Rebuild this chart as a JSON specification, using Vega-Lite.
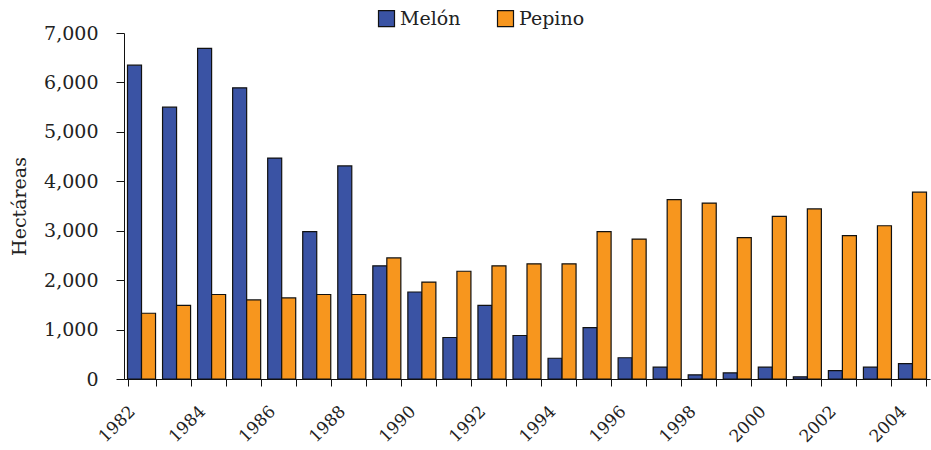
{
  "$schema": "https://vega.github.io/schema/vega-lite/v6.json",
  "width": 806,
  "height": 346,
  "autosize": "none",
  "padding": {"left": 124, "top": 33, "right": 1, "bottom": 71},
  "config": {
    "view": {"stroke": null},
    "font": "DejaVu Serif",
    "axis": {"labelFont": "DejaVu Serif", "titleFont": "DejaVu Serif", "labelColor": "#222", "titleColor": "#222"}
  },
  "data": {
    "values": [
      {"year": 1982, "crop": "Melón", "value": 6350}, {"year": 1982, "crop": "Pepino", "value": 1330},
      {"year": 1983, "crop": "Melón", "value": 5500}, {"year": 1983, "crop": "Pepino", "value": 1490},
      {"year": 1984, "crop": "Melón", "value": 6690}, {"year": 1984, "crop": "Pepino", "value": 1710},
      {"year": 1985, "crop": "Melón", "value": 5890}, {"year": 1985, "crop": "Pepino", "value": 1600},
      {"year": 1986, "crop": "Melón", "value": 4470}, {"year": 1986, "crop": "Pepino", "value": 1640},
      {"year": 1987, "crop": "Melón", "value": 2980}, {"year": 1987, "crop": "Pepino", "value": 1710},
      {"year": 1988, "crop": "Melón", "value": 4310}, {"year": 1988, "crop": "Pepino", "value": 1710},
      {"year": 1989, "crop": "Melón", "value": 2290}, {"year": 1989, "crop": "Pepino", "value": 2450},
      {"year": 1990, "crop": "Melón", "value": 1760}, {"year": 1990, "crop": "Pepino", "value": 1960},
      {"year": 1991, "crop": "Melón", "value": 840}, {"year": 1991, "crop": "Pepino", "value": 2180},
      {"year": 1992, "crop": "Melón", "value": 1490}, {"year": 1992, "crop": "Pepino", "value": 2290},
      {"year": 1993, "crop": "Melón", "value": 880}, {"year": 1993, "crop": "Pepino", "value": 2330},
      {"year": 1994, "crop": "Melón", "value": 420}, {"year": 1994, "crop": "Pepino", "value": 2330},
      {"year": 1995, "crop": "Melón", "value": 1040}, {"year": 1995, "crop": "Pepino", "value": 2980},
      {"year": 1996, "crop": "Melón", "value": 430}, {"year": 1996, "crop": "Pepino", "value": 2830},
      {"year": 1997, "crop": "Melón", "value": 240}, {"year": 1997, "crop": "Pepino", "value": 3630},
      {"year": 1998, "crop": "Melón", "value": 85}, {"year": 1998, "crop": "Pepino", "value": 3560},
      {"year": 1999, "crop": "Melón", "value": 125}, {"year": 1999, "crop": "Pepino", "value": 2860},
      {"year": 2000, "crop": "Melón", "value": 240}, {"year": 2000, "crop": "Pepino", "value": 3290},
      {"year": 2001, "crop": "Melón", "value": 45}, {"year": 2001, "crop": "Pepino", "value": 3440},
      {"year": 2002, "crop": "Melón", "value": 170}, {"year": 2002, "crop": "Pepino", "value": 2900},
      {"year": 2003, "crop": "Melón", "value": 240}, {"year": 2003, "crop": "Pepino", "value": 3100},
      {"year": 2004, "crop": "Melón", "value": 310}, {"year": 2004, "crop": "Pepino", "value": 3780}
    ]
  },
  "mark": {"type": "bar", "stroke": "#111", "strokeWidth": 1.2},
  "encoding": {
    "x": {
      "field": "year",
      "type": "ordinal",
      "scale": {"paddingInner": 0.2, "paddingOuter": 0.1},
      "axis": {
        "title": null,
        "labelAngle": -45,
        "labelAlign": "right",
        "labelBaseline": "top",
        "labelFontSize": 17,
        "labelPadding": 17,
        "labelOffset": -15,
        "labelExpr": "datum.value % 2 == 0 ? datum.label : ''",
        "tickBand": "extent",
        "tickSize": 7,
        "tickColor": "#111",
        "domainColor": "#111",
        "labelOverlap": false
      }
    },
    "xOffset": {"field": "crop", "type": "nominal", "scale": {"paddingInner": 0}},
    "y": {
      "field": "value",
      "type": "quantitative",
      "scale": {"domain": [0, 7000], "nice": false},
      "axis": {
        "title": "Hectáreas",
        "titleFontSize": 19,
        "titleFontWeight": "normal",
        "titlePadding": 14,
        "labelFontSize": 19,
        "labelPadding": 18,
        "tickSize": 8,
        "tickColor": "#111",
        "domainColor": "#111",
        "grid": false,
        "values": [0, 1000, 2000, 3000, 4000, 5000, 6000, 7000],
        "format": ",d"
      }
    },
    "fill": {
      "field": "crop",
      "type": "nominal",
      "scale": {"domain": ["Melón", "Pepino"], "range": ["#3A53A4", "#F7961E"]},
      "legend": {
        "title": null,
        "orient": "none",
        "direction": "horizontal",
        "legendX": 253,
        "legendY": -24,
        "symbolType": "square",
        "symbolSize": 256,
        "symbolStrokeColor": "#111",
        "symbolStrokeWidth": 1.2,
        "labelFontSize": 19,
        "labelFont": "DejaVu Serif",
        "labelColor": "#222",
        "columnPadding": 34,
        "symbolOffset": 0
      }
    }
  }
}
